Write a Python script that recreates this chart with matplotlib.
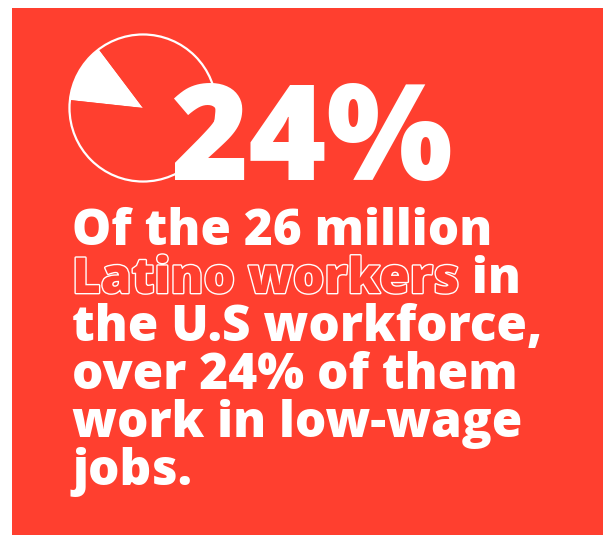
import matplotlib.pyplot as plt
import matplotlib.patheffects as pe
from matplotlib.patches import Rectangle

W, H = 606, 537
RED = "#ff3f2f"
FONT = "Open Sans"

# slice shown in the pie icon (white part, rest)
pie_values = [13, 87]
headline = "24%"
# each line is a list of (text, outlined) pieces
body_lines = [
    [("Of the 26 million", False)],
    [("Latino workers", True), (" in", False)],
    [("the U.S workforce,", False)],
    [("over 24% of them", False)],
    [("work in low-wage", False)],
    [("jobs.", False)],
]


def fx(x):
    return x / W


def fy(y):
    return 1 - y / H


fig = plt.figure(figsize=(W / 100, H / 100), dpi=100)
fig.patch.set_facecolor("white")

# red card (behind the pie axes)
fig.patches.append(Rectangle((fx(12), fy(535)), fx(603) - fx(12), fy(8) - fy(535),
                             transform=fig.transFigure, facecolor=RED, edgecolor="none",
                             zorder=-1))

# pie icon
cx, cy, r = 143, 108, 75
ax = fig.add_axes([fx(cx - r), fy(cy + r), 2 * r / W, 2 * r / H])
ax.set_axis_off()
ax.pie(pie_values, colors=["white", RED], startangle=127, counterclock=True,
       radius=1, wedgeprops=dict(linewidth=0))
ax.add_patch(plt.Circle((0, 0), 1, fill=False, edgecolor="white", linewidth=1.6))
ax.set_xlim(-1.02, 1.02)
ax.set_ylim(-1.02, 1.02)
ax.set_aspect("equal")

# big number
fig.text(fx(170), fy(180), headline, color="white", fontsize=96,
         family=FONT, fontweight=800, ha="left", va="baseline", zorder=5)

# body text
renderer = fig.canvas.get_renderer()
x0, y0, step = 72, 245, 48
for i, line in enumerate(body_lines):
    x = fx(x0)
    for piece, outlined in line:
        if outlined:
            t = fig.text(x, fy(y0 + i * step), piece, color=RED, fontsize=35.6,
                         family=FONT, fontweight=800, ha="left", va="baseline",
                         path_effects=[pe.withStroke(linewidth=2.0, foreground="white")])
        else:
            t = fig.text(x, fy(y0 + i * step), piece, color="white", fontsize=35.6,
                         family=FONT, fontweight=800, ha="left", va="baseline")
        bb = t.get_window_extent(renderer)
        x = bb.x1 / fig.bbox.width

fig.savefig("out.png", dpi=100)
